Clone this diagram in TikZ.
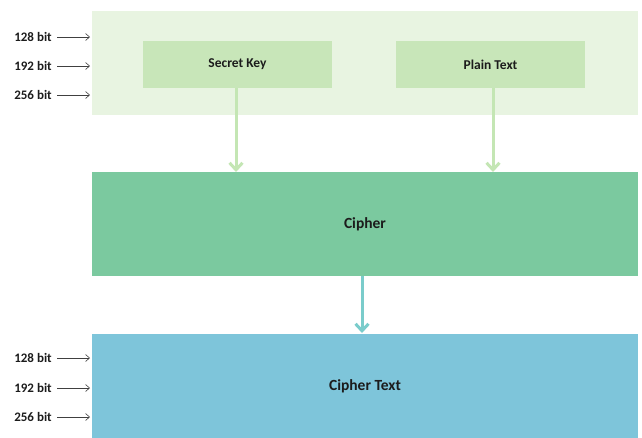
\documentclass[tikz,border=0pt]{standalone}
\usepackage{fontspec}
\setmainfont{Carlito}
\usetikzlibrary{arrows.meta}
\definecolor{panelbg}{HTML}{E8F4E1}
\definecolor{inbox}{HTML}{C8E6B9}
\definecolor{ciphergreen}{HTML}{7BC99F}
\definecolor{outblue}{HTML}{7EC5DA}
\definecolor{arrowgreen}{HTML}{C4E6B4}
\definecolor{arrowteal}{HTML}{7ACCCB}
\definecolor{labeltext}{HTML}{1C1C1C}
\tikzset{
  x=1pt, y=-1pt,
  band/.style={draw=none, minimum width=546pt, minimum height=104pt, inner sep=0pt,
    font=\fontsize{15.5}{18}\selectfont\bfseries, text=labeltext},
  inputbox/.style={fill=inbox, draw=none, minimum width=189pt, minimum height=47pt, inner sep=0pt,
    font=\fontsize{13.5}{16}\selectfont\bfseries, text=labeltext},
  bitlabel/.style={font=\fontsize{13}{15}\selectfont\bfseries, text=labeltext, anchor=center, inner sep=0pt},
  bitarrow/.style={draw=black!75, line width=0.6pt, -{Straight Barb[length=4pt,width=7pt]}},
  flowgreen/.style={draw=arrowgreen, line width=3pt, -{Straight Barb[length=7pt,width=13pt,line width=3pt]}},
  flowteal/.style={draw=arrowteal, line width=3pt, -{Straight Barb[length=7pt,width=13pt,line width=3pt]}},
}
\begin{document}
\begin{tikzpicture}
\useasboundingbox (0,0) rectangle (642,437);
% input panel
\node[band, fill=panelbg] (panel) at (365,63) {};
\node[inputbox] (key) at (237.5,64.5) {Secret Key};
\node[inputbox] (plain) at (490.5,64.5) {Plain Text};
% cipher stage
\node[band, fill=ciphergreen] (cipher) at (365,224) {Cipher};
% output stage
\node[band, fill=outblue] (out) at (365,386) {Cipher Text};
% flows
\coordinate (keyin) at (236,172);
\coordinate (plainin) at (493,172);
\coordinate (outin) at (362,333);
\draw[flowgreen] (key.south -| keyin) -- (keyin);
\draw[flowgreen] (plain.south -| plainin) -- (plainin);
\draw[flowteal] (cipher.south -| outin) -- (outin);
% key size labels
\foreach \n/\yy/\t in {a/37/128, b/66/192, c/95/256, d/358/128, e/388/192, f/417/256}{
  \node[bitlabel] (l\n) at (33,\yy) {\t\ bit};
  \coordinate (s\n) at (57,\yy);
  \coordinate (t\n) at (90,\yy);
  \draw[bitarrow] (s\n) -- (t\n);
}
\end{tikzpicture}
\end{document}
